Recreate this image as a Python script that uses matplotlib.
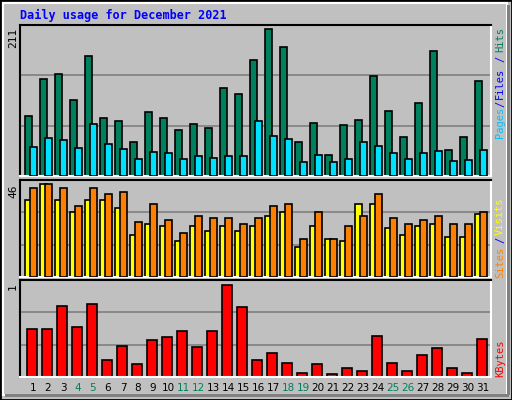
import matplotlib
matplotlib.use("Agg")
import matplotlib.pyplot as plt
from matplotlib.patches import Rectangle
import numpy as np

days = list(range(1, 32))
weekend = [4, 5, 11, 12, 18, 19, 25, 26]
hits = [86,139,146,109,172,83,79,49,92,83,66,75,69,126,118,167,211,185,49,76,30,73,80,144,93,56,105,179,37,56,136]
files = [42,55,52,40,75,46,39,24,34,33,24,29,26,29,29,79,57,53,20,30,20,24,49,43,33,24,33,36,22,23,37]
sites = [38,46,38,32,38,38,34,21,26,25,18,25,23,25,23,25,30,32,15,25,19,18,36,36,24,21,25,26,20,20,31]
visits = [44,46,44,35,44,41,42,27,36,28,22,30,29,29,26,29,35,36,19,32,19,25,30,41,29,26,28,30,26,26,32]
kbytes = [0.52,0.52,0.77,0.54,0.79,0.18,0.34,0.14,0.40,0.43,0.50,0.32,0.50,1.0,0.76,0.18,0.26,0.15,0.04,0.14,0.03,0.10,0.07,0.44,0.15,0.07,0.24,0.31,0.10,0.04,0.41]

W, H = 512, 400
BG = "#C0C0C0"
fig = plt.figure(figsize=(W/100, H/100), dpi=100, facecolor=BG)
mono = "DejaVu Sans Mono"

def fx(x): return x / W
def fy(y): return 1 - y / H

# outer frame / bevel
fig.patches.append(Rectangle((0, 0), 1, 1, transform=fig.transFigure, fill=False, ec="black", lw=2))
fig.patches.append(Rectangle((fx(3), fy(395)), fx(504), fy(3)-fy(395), transform=fig.transFigure, fill=False, ec="white", lw=1.5))
fig.patches.append(Rectangle((fx(507), fy(395)), fx(3), fy(5)-fy(395), transform=fig.transFigure, color="#808080", lw=0))
fig.patches.append(Rectangle((fx(5), fy(397)), fx(504), fy(394)-fy(397), transform=fig.transFigure, color="#808080", lw=0))

x0, x1 = 20, 491
def mkax(ytop, ybot):
    ax = fig.add_axes([fx(x0), fy(ybot), fx(x1) - fx(x0), fy(ytop) - fy(ybot)])
    ax.set_facecolor(BG)
    for s in ["top", "left"]:
        ax.spines[s].set_color("black"); ax.spines[s].set_linewidth(1.5)
    for s in ["bottom", "right"]:
        ax.spines[s].set_color("white"); ax.spines[s].set_linewidth(1.5)
    ax.set_xticks([]); ax.set_yticks([])
    ax.set_xlim(0.13, 31.53)
    for f in (1/3, 2/3):
        ax.axhline(0, lw=0)  # placeholder
    return ax

def grid(ax, top):
    for f in (1/3, 2/3):
        ax.axhline(top * f, color="#808080", lw=1.2, zorder=0)

d = np.array(days, dtype=float)
ec = dict(edgecolor="black", linewidth=1.2)

ax1 = mkax(25, 176)
top1 = 211 * 151 / 147
ax1.set_ylim(0, top1); grid(ax1, top1)
ax1.bar(d - 0.3, hits, width=0.47, color="#00805C", zorder=2, **ec)
ax1.bar(d, files, width=0.47, color="#00E0FF", zorder=3, **ec)

ax2 = mkax(180, 277)
top2 = 46 * 97 / 93
ax2.set_ylim(0, top2); grid(ax2, top2)
ax2.bar(d - 0.3, sites, width=0.47, color="#FFFF00", zorder=2, **ec)
ax2.bar(d, visits, width=0.47, color="#FF8000", zorder=3, **ec)

ax3 = mkax(280, 377)
top3 = 1.0 * 96 / 91.3
ax3.set_ylim(0, top3); grid(ax3, top3)
ax3.bar(d - 0.1, kbytes, width=0.67, color="#FF0000", zorder=2, **ec)

# title
fig.text(fx(20), fy(15), "Daily usage for December 2021", color="#0000FF",
         fontsize=8.5, fontweight="bold", family=mono, va="center", ha="left")

# left max labels
fig.text(fx(13), fy(28), "211", rotation=90, fontsize=8, family=mono, va="top", ha="center")
fig.text(fx(13), fy(184), "46", rotation=90, fontsize=8, family=mono, va="top", ha="center")
fig.text(fx(13), fy(283), "1", rotation=90, fontsize=8, family=mono, va="top", ha="center")

# right labels
def rlab(txt, yc, col):
    fig.text(fx(500), fy(yc), txt, rotation=90, fontsize=7.5, family=mono,
             va="center", ha="center", color=col)
rlab("Hits", 40, "#00805C"); rlab("/", 59, "#0000FF"); rlab("Files", 83, "#0000FF")
rlab("/", 104, "#0000FF"); rlab("Pages", 122, "#00C0FF")
rlab("Visits", 216, "#FFFF00"); rlab("/", 240, "#0000FF"); rlab("Sites", 262, "#FF8000")
rlab("KBytes", 358, "#FF0000")

# day labels
for dd in days:
    fig.text(fx(33 + (dd - 1) * 15), fy(388), str(dd), fontsize=7.5,
             color="#00805C" if dd in weekend else "black", ha="center", va="center")

fig.savefig("out.png", dpi=100, facecolor=BG)
